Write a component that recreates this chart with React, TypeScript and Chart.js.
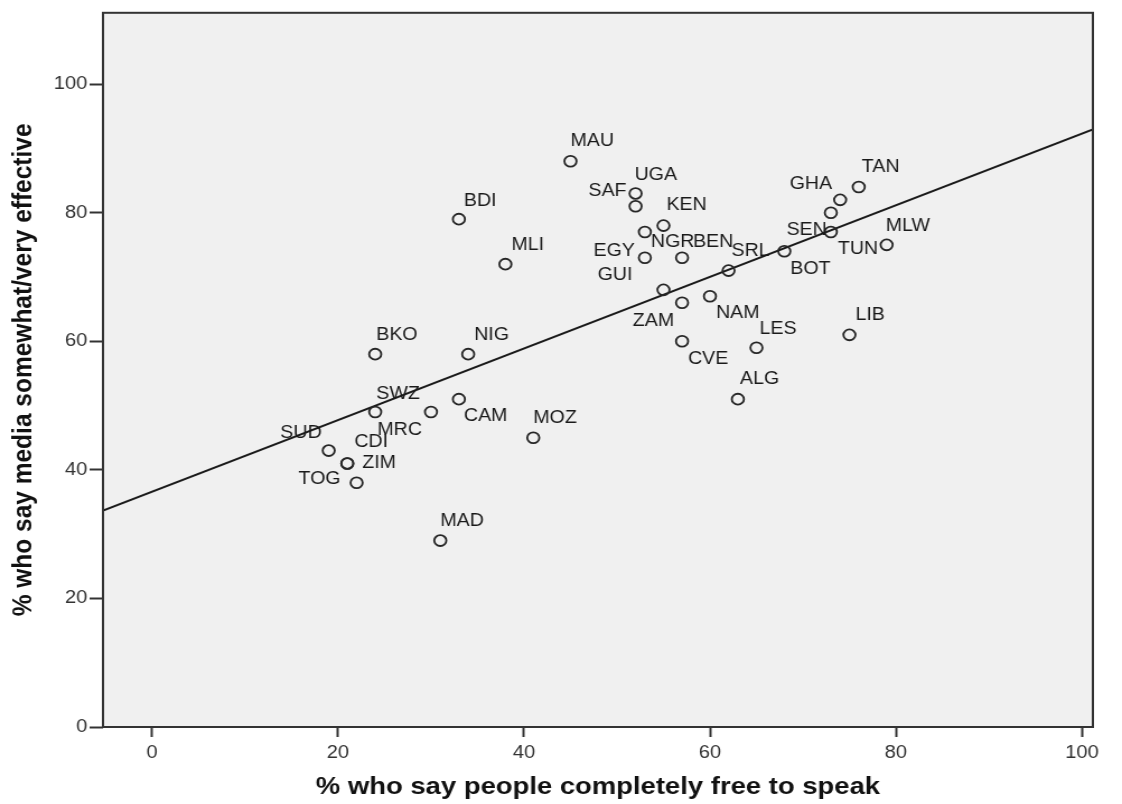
import React, { useEffect, useRef } from "react";
import { Chart, registerables } from "chart.js";

Chart.register(...registerables);

// Country codes and survey shares (%)
const countries = [
  "MAU", "UGA", "SAF", "KEN", "EGY", "NGR", "BEN", "GUI", "SRL", "ZAM", "NAM", "CVE",
  "LES", "ALG", "BOT", "GHA", "SEN", "TUN", "TAN", "MLW", "LIB", "BDI", "MLI", "BKO",
  "NIG", "SWZ", "MRC", "CAM", "MOZ", "SUD", "CDI", "ZIM", "TOG", "MAD",
];
const freeToSpeak = [
  45, 52, 52, 55, 53, 53, 57, 55, 62, 57, 60, 57,
  65, 63, 68, 74, 73, 73, 76, 79, 75, 33, 38, 24,
  34, 24, 30, 33, 41, 19, 21, 21, 22, 31,
];
const mediaEffective = [
  88, 83, 81, 78, 77, 73, 73, 68, 71, 66, 67, 60,
  59, 51, 74, 82, 80, 77, 84, 75, 61, 79, 72, 58,
  58, 49, 49, 51, 45, 43, 41, 41, 38, 29,
];

// Axis settings
const xTickValues = [0, 20, 40, 60, 80, 100];
const yTickValues = [0, 20, 40, 60, 80, 100];
const xMin = -5.27;
const xMax = 101.18;
const yMin = 0;
const yMax = 111.1;
const xTitle = "% who say people completely free to speak";
const yTitle = "% who say media somewhat/very effective";

// Linear fit line
const fitIntercept = 36.6;
const fitSlope = 0.557;

// Where each country code sits next to its marker: [side, dx, dy] (screen px)
const labelPlacement: [string, number, number][] = [
  ["left", 0, -20], ["left", -1, -18], ["right", -9, -15], ["left", 3, -20],
  ["right", -10, 19], ["left", 6, -16], ["left", 11, -16], ["right", -31, -15],
  ["left", 3, -19], ["right", -8, 18], ["left", 6, 17], ["left", 6, 18],
  ["left", 3, -19], ["left", 2, -20], ["left", 6, 18], ["right", -8, -16],
  ["right", -4, 17], ["left", 7, 17], ["left", 3, -20], ["left", -1, -19],
  ["left", 6, -20], ["left", 5, -18], ["left", 6, -19], ["left", 1, -19],
  ["left", 6, -19], ["left", 1, -18], ["right", -9, 18], ["left", 5, 17],
  ["left", 0, -20], ["right", -7, -17], ["left", 7, -21], ["left", 15, 0],
  ["right", -16, -4], ["left", 0, -19],
];

// The drawing is rendered on a narrower bitmap and widened on screen
const SCREEN_W = 1122;
const SCREEN_H = 804;
const STRETCH = 1.12;
const BITMAP_W = Math.round(SCREEN_W / STRETCH);
const SX = SCREEN_W / BITMAP_W;

const FONT = '"Liberation Sans", Arial, Helvetica, sans-serif';

const plotBackdrop = {
  id: "plotBackdrop",
  beforeDraw(chart: any) {
    const { ctx, chartArea: a } = chart;
    ctx.save();
    ctx.fillStyle = "#ffffff";
    ctx.fillRect(0, 0, chart.width, chart.height);
    ctx.fillStyle = "#f0f0f0";
    ctx.fillRect(a.left, a.top, a.right - a.left, a.bottom - a.top);
    ctx.restore();
  },
  afterDraw(chart: any) {
    const { ctx, chartArea: a } = chart;
    ctx.save();
    ctx.strokeStyle = "#333333";
    ctx.lineWidth = 2;
    ctx.strokeRect(a.left, a.top, a.right - a.left, a.bottom - a.top);
    ctx.restore();
  },
};

const countryLabels = {
  id: "countryLabels",
  afterDatasetsDraw(chart: any) {
    const { ctx } = chart;
    const meta = chart.getDatasetMeta(0);
    ctx.save();
    ctx.font = `17.5px ${FONT}`;
    ctx.fillStyle = "#1a1a1a";
    ctx.textBaseline = "middle";
    meta.data.forEach((pt: any, i: number) => {
      const [side, dx, dy] = labelPlacement[i];
      ctx.textAlign = side as CanvasTextAlign;
      ctx.fillText(countries[i], pt.x + dx / SX, pt.y + dy);
    });
    ctx.restore();
  },
};

export default function App() {
  const canvasRef = useRef<HTMLCanvasElement | null>(null);

  useEffect(() => {
    if (!canvasRef.current) return;
    const points = countries.map((_, i) => ({ x: freeToSpeak[i], y: mediaEffective[i] }));
    const fitLine = [
      { x: xMin, y: fitIntercept + fitSlope * xMin },
      { x: xMax, y: fitIntercept + fitSlope * xMax },
    ];

    const chart = new Chart(canvasRef.current, {
      type: "scatter",
      data: {
        datasets: [
          {
            data: points,
            pointStyle: "circle",
            pointRadius: 5.4,
            borderWidth: 1.8,
            borderColor: "#262626",
            backgroundColor: "rgba(0,0,0,0)",
          },
          {
            type: "line",
            data: fitLine,
            showLine: true,
            borderColor: "#1a1a1a",
            borderWidth: 2,
            pointRadius: 0,
            fill: false,
          } as any,
        ],
      },
      options: {
        animation: false,
        responsive: false,
        devicePixelRatio: 1,
        layout: { padding: { top: 8, right: BITMAP_W - Math.round(1093 / SX), bottom: 0, left: 0 } },
        plugins: {
          legend: { display: false },
          tooltip: { enabled: false },
        },
        scales: {
          x: {
            type: "linear",
            min: xMin,
            max: xMax,
            afterBuildTicks: (s: any) => {
              s.ticks = xTickValues.map((v) => ({ value: v }));
            },
            afterFit: (s: any) => {
              s.height = SCREEN_H - 727;
            },
            ticks: {
              font: { family: FONT, size: 18 },
              color: "#333333",
              padding: 5,
              maxRotation: 0,
            },
            grid: {
              display: true,
              drawOnChartArea: false,
              drawTicks: true,
              tickLength: 10,
              tickWidth: 2,
              tickColor: "#333333",
            },
            border: { display: false },
            title: {
              display: true,
              text: xTitle,
              font: { family: FONT, size: 24.5, weight: "bold" },
              color: "#111111",
              padding: { top: 0, bottom: 2 },
            },
          },
          y: {
            type: "linear",
            min: yMin,
            max: yMax,
            afterBuildTicks: (s: any) => {
              s.ticks = yTickValues.map((v) => ({ value: v }));
            },
            afterFit: (s: any) => {
              s.width = Math.round(103 / SX);
            },
            ticks: {
              font: { family: FONT, size: 18 },
              color: "#333333",
              padding: 2,
            },
            grid: {
              display: true,
              drawOnChartArea: false,
              drawTicks: true,
              tickLength: 12,
              tickWidth: 2,
              tickColor: "#333333",
            },
            border: { display: false },
            title: {
              display: true,
              text: yTitle,
              font: { family: FONT, size: 24.5, weight: "bold" },
              color: "#111111",
              padding: { top: 6.4, bottom: 0 },
            },
          },
        },
      },
      plugins: [plotBackdrop, countryLabels],
    });

    return () => chart.destroy();
  }, []);

  return (
    <div
      style={{
        position: "fixed",
        left: 0,
        top: 0,
        width: SCREEN_W,
        height: SCREEN_H,
        background: "#ffffff",
      }}
    >
      <canvas
        ref={canvasRef}
        width={BITMAP_W}
        height={SCREEN_H}
        style={{ width: `${SCREEN_W}px`, height: `${SCREEN_H}px`, display: "block" }}
      />
    </div>
  );
}
